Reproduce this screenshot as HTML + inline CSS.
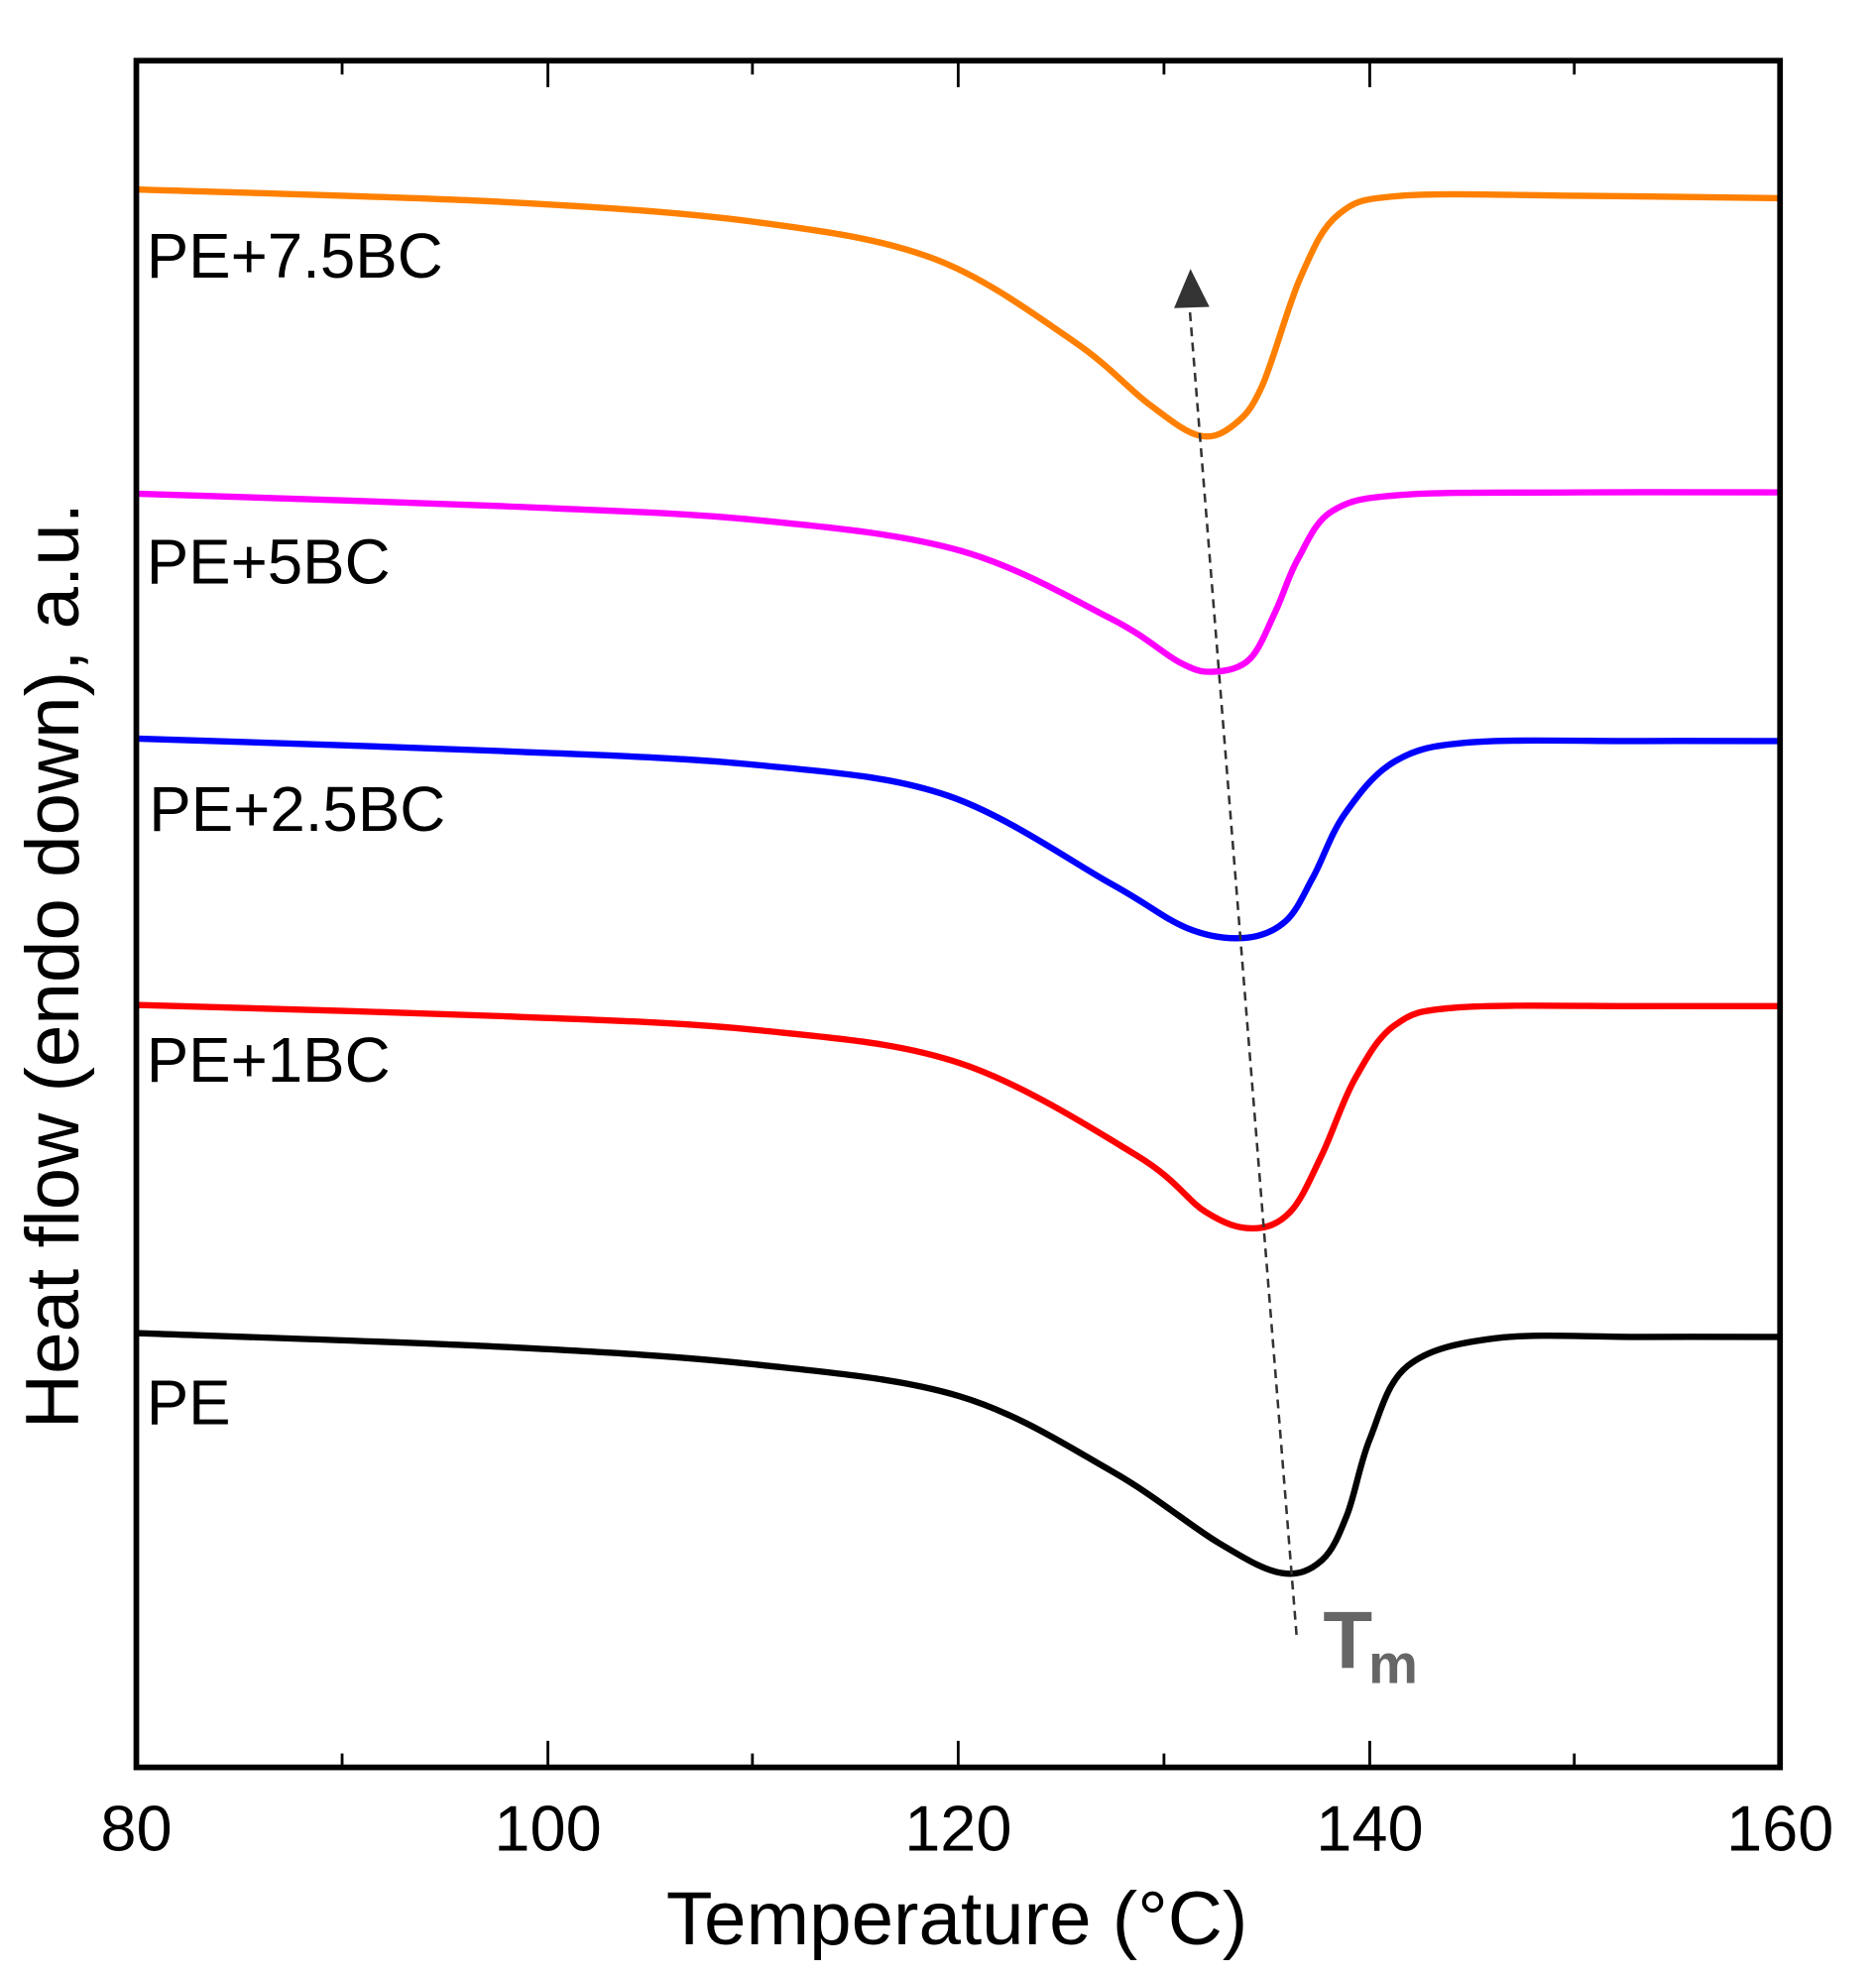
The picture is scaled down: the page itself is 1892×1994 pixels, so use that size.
<!DOCTYPE html>
<html><head><meta charset="utf-8"><style>html,body{margin:0;padding:0;background:#fff}svg{display:block}</style></head>
<body>
<svg id="s" width="1892" height="1994" viewBox="0 0 1486 1566" xmlns="http://www.w3.org/2000/svg" font-family="Liberation Sans, Arial, sans-serif">
<rect width="1486" height="1566" fill="#fff"/>
<g id="curves" fill="none" stroke-width="5" stroke-linejoin="round"></g>
<g stroke="#000" stroke-width="2.2">
<line x1="271" y1="1400" x2="271" y2="1389"/><line x1="596" y1="1400" x2="596" y2="1389"/><line x1="922" y1="1400" x2="922" y2="1389"/><line x1="1247" y1="1400" x2="1247" y2="1389"/>
<line x1="434" y1="1400" x2="434" y2="1379"/><line x1="759" y1="1400" x2="759" y2="1379"/><line x1="1085" y1="1400" x2="1085" y2="1379"/>
<line x1="271" y1="48" x2="271" y2="59"/><line x1="596" y1="48" x2="596" y2="59"/><line x1="922" y1="48" x2="922" y2="59"/><line x1="1247" y1="48" x2="1247" y2="59"/>
<line x1="434" y1="48" x2="434" y2="69"/><line x1="759" y1="48" x2="759" y2="69"/><line x1="1085" y1="48" x2="1085" y2="69"/>
</g>
<rect x="108" y="48" width="1302" height="1352" fill="none" stroke="#000" stroke-width="4.5"/>
<line x1="1027" y1="1295" x2="942" y2="240" stroke="#333" stroke-width="2" stroke-dasharray="7,5"/>
<polygon points="943,213 930,244 958,243" fill="#333"/>
<g font-size="51" fill="#000" text-anchor="middle">
<text x="108" y="1466">80</text><text x="434" y="1466">100</text><text x="759" y="1466">120</text><text x="1085" y="1466">140</text><text x="1410" y="1466">160</text>
</g>
<text x="758" y="1540" font-size="60" text-anchor="middle">Temperature (°C)</text>
<text transform="translate(62,765) rotate(-90)" font-size="60" text-anchor="middle">Heat flow (endo down), a.u.</text>
<g font-size="50" fill="#000">
<text x="116" y="220">PE+7.5BC</text>
<text x="116" y="462">PE+5BC</text>
<text x="118" y="658">PE+2.5BC</text>
<text x="116" y="857">PE+1BC</text>
<text x="116" y="1128">PE</text>
</g>
<text x="1048" y="1321" font-size="64" font-weight="bold" fill="#666">T</text>
<text x="1084" y="1333" font-size="44" font-weight="bold" fill="#666">m</text>
</svg>
<script>
var data=[
["#ff8000",[[108,150],[400,160],[600,176],[740,205],[850,270],[910,320],[950,345],[978,336],[1000,305],[1030,220],[1060,170],[1110,155],[1250,155],[1410,157]]],
["#ff00ff",[[108,391],[400,401],[600,412],[760,436],[880,490],[935,525],[962,532],[990,522],[1010,485],[1028,443],[1055,405],[1110,392],[1250,390],[1410,390]]],
["#0000ff",[[108,585],[400,595],[600,606],[750,630],[880,700],[940,735],[985,743],[1018,730],[1040,695],[1065,645],[1105,603],[1165,588],[1300,587],[1410,587]]],
["#ff0000",[[108,796],[400,805],[600,816],[760,842],[900,915],[955,960],[992,973],[1022,960],[1047,915],[1073,855],[1105,812],[1155,798],[1300,797],[1410,797]]],
["#000000",[[108,1056],[400,1067],[600,1081],[760,1106],[880,1165],[965,1222],[1015,1246],[1047,1236],[1067,1200],[1085,1140],[1115,1082],[1185,1060],[1300,1059],[1410,1059]]]
];
var g=document.getElementById('curves');
data.forEach(function(d){var p=d[1],s='M'+p[0][0]+','+p[0][1];
for(var i=0;i<p.length-1;i++){var p0=p[i-1]||p[i],p1=p[i],p2=p[i+1],p3=p[i+2]||p2;
s+=' C'+(p1[0]+(p2[0]-p0[0])/6)+','+(p1[1]+(p2[1]-p0[1])/6)+' '+(p2[0]-(p3[0]-p1[0])/6)+','+(p2[1]-(p3[1]-p1[1])/6)+' '+p2[0]+','+p2[1];}
var e=document.createElementNS('http://www.w3.org/2000/svg','path');e.setAttribute('d',s);e.setAttribute('stroke',d[0]);g.appendChild(e);});
</script>
</body></html>
